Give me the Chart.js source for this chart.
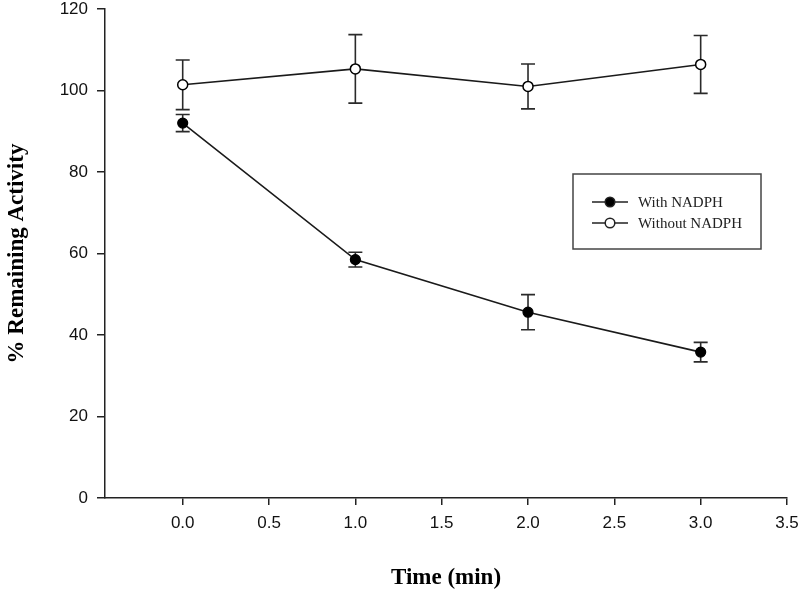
<!DOCTYPE html>
<html>
<head>
<meta charset="utf-8">
<script src="https://cdn.jsdelivr.net/npm/chart.js@4/dist/chart.umd.min.js"></script>
<style>
html,body{margin:0;padding:0;background:#fff;}
#wrap{width:800px;height:593px;position:relative;}
</style>
</head>
<body>
<div id="wrap"><canvas id="c" width="800" height="593"></canvas></div>
<script>
const times = [0, 1, 2, 3];
const withNADPH = [92.0, 58.5, 45.6, 35.8];
const withErr = [2.1, 1.8, 4.3, 2.4];
const withoutNADPH = [101.4, 105.3, 101.0, 106.4];
const withoutErr = [6.1, 8.4, 5.5, 7.1];
const xTickValues = [0, 0.5, 1, 1.5, 2, 2.5, 3, 3.5];
const yTickValues = [0, 20, 40, 60, 80, 100, 120];
const seriesLabels = ['With NADPH', 'Without NADPH'];
const xTitle = 'Time (min)';
const yTitle = '% Remaining Activity';

const errorArrays = [withErr, withoutErr];

const errorBarPlugin = {
  id: 'errorBars',
  beforeDatasetsDraw(chart) {
    const ctx = chart.ctx;
    const xs = chart.scales.x, ys = chart.scales.y;
    ctx.save();
    ctx.strokeStyle = '#2a2a2a';
    ctx.lineWidth = 1.6;
    chart.data.datasets.forEach((ds, di) => {
      const errs = errorArrays[di];
      ds.data.forEach((pt, i) => {
        const x = xs.getPixelForValue(pt.x);
        const yt = ys.getPixelForValue(pt.y + errs[i]);
        const yb = ys.getPixelForValue(pt.y - errs[i]);
        const hw = 7;
        ctx.beginPath();
        ctx.moveTo(x, yt); ctx.lineTo(x, yb);
        ctx.moveTo(x - hw, yt); ctx.lineTo(x + hw, yt);
        ctx.moveTo(x - hw, yb); ctx.lineTo(x + hw, yb);
        ctx.stroke();
      });
    });
    ctx.restore();
  }
};

const legendPlugin = {
  id: 'boxLegend',
  afterDraw(chart) {
    const ctx = chart.ctx;
    ctx.save();
    const bx = 573, by = 174, bw = 188, bh = 75;
    ctx.strokeStyle = '#444';
    ctx.lineWidth = 1.5;
    ctx.strokeRect(bx, by, bw, bh);
    const rows = [202, 223];
    chart.data.datasets.forEach((ds, i) => {
      const y = rows[i];
      ctx.strokeStyle = '#222';
      ctx.lineWidth = 1.6;
      ctx.beginPath();
      ctx.moveTo(592, y); ctx.lineTo(628, y);
      ctx.stroke();
      ctx.beginPath();
      ctx.arc(610, y, 4.8, 0, Math.PI * 2);
      ctx.fillStyle = ds.pointBackgroundColor;
      ctx.fill();
      ctx.lineWidth = 1.5;
      ctx.stroke();
      ctx.fillStyle = '#222';
      ctx.font = '15px "Liberation Serif", "Times New Roman", serif';
      ctx.textBaseline = 'middle';
      ctx.textAlign = 'left';
      ctx.fillText(ds.label, 638, y + 1);
    });
    ctx.restore();
  }
};

new Chart(document.getElementById('c'), {
  type: 'line',
  data: {
    datasets: [
      {
        label: seriesLabels[0],
        data: times.map((t, i) => ({x: t, y: withNADPH[i]})),
        borderColor: '#1a1a1a',
        borderWidth: 1.6,
        pointRadius: 5,
        pointBackgroundColor: '#000',
        pointBorderColor: '#000',
        pointBorderWidth: 1.2,
        tension: 0
      },
      {
        label: seriesLabels[1],
        data: times.map((t, i) => ({x: t, y: withoutNADPH[i]})),
        borderColor: '#1a1a1a',
        borderWidth: 1.6,
        pointRadius: 5,
        pointBackgroundColor: '#fff',
        pointBorderColor: '#000',
        pointBorderWidth: 1.5,
        tension: 0
      }
    ]
  },
  options: {
    responsive: false,
    animation: false,
    devicePixelRatio: 1,
    layout: { padding: { top: 0, right: 0, left: 0, bottom: 0 } },
    plugins: { legend: { display: false }, tooltip: { enabled: false } },
    scales: {
      x: {
        type: 'linear',
        min: -0.45,
        max: 3.5,
        afterBuildTicks(scale) { scale.ticks = xTickValues.map(v => ({value: v})); },
        afterFit(scale) { scale.height = 95; scale.paddingLeft = 0; scale.paddingRight = 13; },
        grid: { display: true, drawOnChartArea: false, drawTicks: true, tickLength: 7, color: '#222', lineWidth: 1.5 },
        border: { display: true, color: '#222', width: 1.5 },
        ticks: {
          color: '#111',
          padding: 8,
          font: { family: '"Liberation Sans", Arial, sans-serif', size: 17 },
          callback: v => Number(v).toFixed(1),
          maxRotation: 0
        },
        title: {
          display: true,
          text: xTitle,
          color: '#000',
          font: { family: '"Liberation Serif", "Times New Roman", serif', size: 23, weight: 'bold' },
          padding: { top: 0, bottom: 1 }
        }
      },
      y: {
        type: 'linear',
        min: 0,
        max: 120,
        afterBuildTicks(scale) { scale.ticks = yTickValues.map(v => ({value: v})); },
        afterFit(scale) { scale.width = 105; scale.paddingTop = 9; scale.paddingBottom = 0; },
        grid: { display: true, drawOnChartArea: false, drawTicks: true, tickLength: 8, color: '#222', lineWidth: 1.5 },
        border: { display: true, color: '#222', width: 1.5 },
        ticks: {
          color: '#111',
          padding: 9,
          font: { family: '"Liberation Sans", Arial, sans-serif', size: 17 }
        },
        title: {
          display: true,
          text: yTitle,
          color: '#000',
          font: { family: '"Liberation Serif", "Times New Roman", serif', size: 23, weight: 'bold' },
          padding: { top: 3, bottom: 0 }
        }
      }
    }
  },
  plugins: [errorBarPlugin, legendPlugin]
});
</script>
</body>
</html>
